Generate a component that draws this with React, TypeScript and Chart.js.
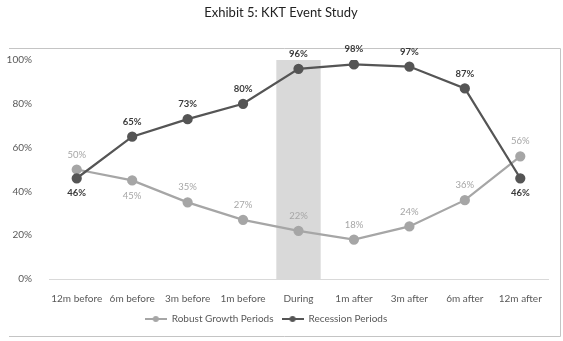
import React, { useEffect, useRef } from "react";
import { Chart, registerables } from "chart.js";

Chart.register(...registerables);

const categories = ["12m before", "6m before", "3m before", "1m before", "During", "1m after", "3m after", "6m after", "12m after"];
const robustGrowth = [50, 45, 35, 27, 22, 18, 24, 36, 56];
const recession = [46, 65, 73, 80, 96, 98, 97, 87, 46];
const duringBand = [null, null, null, null, 100, null, null, null, null];
const robustLabelBelow = [false, true, false, false, false, false, false, false, false];
const recessionLabelBelow = [true, false, false, false, false, false, false, false, true];
const yTicks = [0, 20, 40, 60, 80, 100];

const FONT = "Lato, 'Noto Sans', 'Liberation Sans', sans-serif";
const LIGHT = "#a6a6a6";
const DARK = "#555555";

function makeLegendIcon(color: string) {
  const c = document.createElement("canvas");
  c.width = 22;
  c.height = 10;
  const ctx = c.getContext("2d")!;
  ctx.strokeStyle = color;
  ctx.lineWidth = 2;
  ctx.beginPath();
  ctx.moveTo(0, 5);
  ctx.lineTo(22, 5);
  ctx.stroke();
  ctx.fillStyle = color;
  ctx.beginPath();
  ctx.arc(11, 5, 3, 0, Math.PI * 2);
  ctx.fill();
  return c;
}

const decorPlugin = {
  id: "decor",
  afterLayout(chart: any) {
    const lg = chart.legend;
    if (lg) {
      const w = lg.right - lg.left;
      lg.left = 266 - w / 2;
      lg.right = 266 + w / 2;
    }
  },
  beforeDraw(chart: any) {
    const ctx = chart.ctx;
    ctx.save();
    ctx.strokeStyle = "#c4c4c4";
    ctx.lineWidth = 1;
    ctx.beginPath();
    ctx.moveTo(9, 48.5);
    ctx.lineTo(560.5, 48.5);
    ctx.lineTo(560.5, 336.5);
    ctx.lineTo(9, 336.5);
    ctx.stroke();
    ctx.fillStyle = "#222222";
    ctx.font = `13px ${FONT}`;
    ctx.textAlign = "center";
    ctx.textBaseline = "middle";
    ctx.fillText("Exhibit 5: KKT Event Study", 281, 13);
    ctx.restore();
  },
  afterDatasetsDraw(chart: any) {
    const ctx = chart.ctx;
    ctx.save();
    ctx.textAlign = "center";
    ctx.textBaseline = "middle";
    const specs = [
      { idx: 1, values: robustGrowth, below: robustLabelBelow, color: LIGHT, bold: false },
      { idx: 2, values: recession, below: recessionLabelBelow, color: "#3a3a3a", bold: true },
    ];
    specs.forEach((s) => {
      const meta = chart.getDatasetMeta(s.idx);
      ctx.fillStyle = s.color;
      ctx.font = `${s.bold ? "bold " : ""}9.5px ${FONT}`;
      meta.data.forEach((pt: any, i: number) => {
        const dy = s.below[i] ? 15 : -15;
        ctx.fillText(s.values[i] + "%", pt.x, pt.y + dy);
      });
    });
    ctx.restore();
  },
};

export default function App() {
  const ref = useRef<HTMLCanvasElement>(null);
  useEffect(() => {
    const icons: any = { 1: makeLegendIcon(LIGHT), 2: makeLegendIcon(DARK) };
    const chart = new Chart(ref.current!, {
      type: "line",
      data: {
        labels: categories,
        datasets: [
          {
            type: "bar",
            label: "During",
            data: duringBand as any,
            backgroundColor: "#d9d9d9",
            barPercentage: 0.8,
            categoryPercentage: 1,
            order: 10,
          } as any,
          {
            label: "Robust Growth Periods",
            data: robustGrowth,
            borderColor: LIGHT,
            backgroundColor: LIGHT,
            borderWidth: 2.25,
            pointRadius: 4,
            pointStyle: "circle",
            pointBackgroundColor: LIGHT,
            pointBorderColor: LIGHT,
            order: 2,
          },
          {
            label: "Recession Periods",
            data: recession,
            borderColor: DARK,
            backgroundColor: DARK,
            borderWidth: 2.25,
            pointRadius: 4,
            pointStyle: "circle",
            pointBackgroundColor: DARK,
            pointBorderColor: DARK,
            order: 1,
          },
        ],
      },
      options: {
        animation: false,
        responsive: true,
        maintainAspectRatio: false,
        layout: { padding: { top: 60, right: 15, bottom: 7, left: 0 } },
        scales: {
          x: {
            offset: true,
            grid: { display: false },
            border: { color: "#d9d9d9", width: 1 },
            ticks: { color: "#595959", font: { family: FONT, size: 10 }, padding: 6, maxRotation: 0 },
            afterFit: (s: any) => { s.height = 27; },
          },
          y: {
            min: 0,
            max: 100,
            grid: { display: false },
            border: { display: false },
            afterBuildTicks: (s: any) => { s.ticks = yTicks.map((v) => ({ value: v })); },
            ticks: {
              color: "#595959",
              font: { family: FONT, size: 10 },
              padding: 9,
              callback: (v: any) => v + "%",
            },
            afterFit: (s: any) => { s.width = 49; },
          },
        },
        plugins: {
          title: { display: false },
          tooltip: { enabled: false },
          legend: {
            position: "bottom",
            labels: {
              usePointStyle: true,
              pointStyleWidth: 22,
              color: "#595959",
              font: { family: FONT, size: 10 },
              padding: 8,
              filter: (item: any) => item.datasetIndex !== 0,
              sort: (a: any, b: any) => a.datasetIndex - b.datasetIndex,
              generateLabels: (chart: any) => {
                const items = Chart.defaults.plugins.legend.labels.generateLabels(chart);
                items.forEach((it: any) => {
                  if (icons[it.datasetIndex]) it.pointStyle = icons[it.datasetIndex];
                });
                return items;
              },
            },
          },
        },
      },
      plugins: [decorPlugin],
    });
    return () => chart.destroy();
  }, []);
  return (
    <div style={{ position: "fixed", left: 0, top: 0, width: 563, height: 341, background: "#fff" }}>
      <canvas ref={ref} />
    </div>
  );
}
